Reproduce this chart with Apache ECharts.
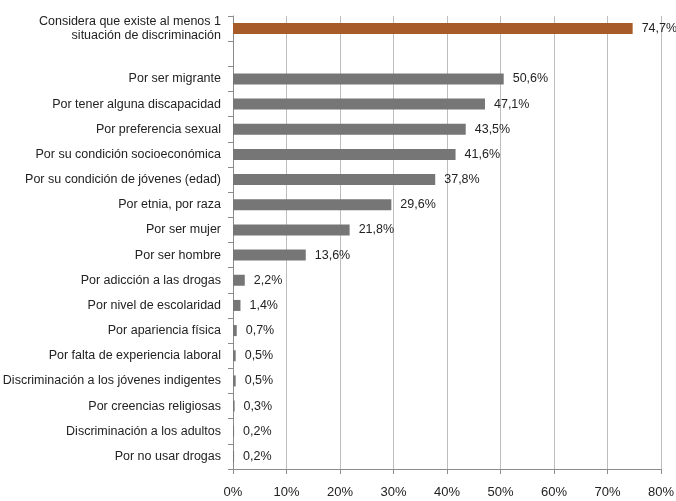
<!DOCTYPE html>
<html>
<head>
<meta charset="utf-8">
<script src="https://cdn.jsdelivr.net/npm/echarts@6/dist/echarts.min.js"></script>
<style>
html,body{margin:0;padding:0;background:#fff;}
#chart{width:676px;height:501px;}
</style>
</head>
<body>
<div id="chart"></div>
<script>
const categories = [
  "Considera que existe al menos 1\nsituación de discriminación",
  "",
  "Por ser migrante",
  "Por tener alguna discapacidad",
  "Por preferencia sexual",
  "Por su condición socioeconómica",
  "Por su condición de jóvenes (edad)",
  "Por etnia, por raza",
  "Por ser mujer",
  "Por ser hombre",
  "Por adicción a las drogas",
  "Por nivel de escolaridad",
  "Por apariencia física",
  "Por falta de experiencia laboral",
  "Discriminación a los jóvenes indigentes",
  "Por creencias religiosas",
  "Discriminación a los adultos",
  "Por no usar drogas"
];
const values = [74.7, null, 50.6, 47.1, 43.5, 41.6, 37.8, 29.6, 21.8, 13.6, 2.2, 1.4, 0.7, 0.5, 0.5, 0.3, 0.2, 0.2];
const highlightIndex = 0;
const colorHighlight = "#A65B28";
const colorDefault = "#767676";
const xTicks = [0, 10, 20, 30, 40, 50, 60, 70, 80];

const FONT = '"Liberation Sans", Arial, sans-serif';
const chart = echarts.init(document.getElementById('chart'), null, {renderer: 'canvas'});
chart.setOption({
  animation: false,
  backgroundColor: '#fff',
  grid: {left: 233, right: 15, top: 16, bottom: 32, containLabel: false, outerBoundsMode: 'none'},
  xAxis: {
    type: 'value',
    min: xTicks[0],
    max: xTicks[xTicks.length - 1],
    interval: 10,
    axisLine: {show: true, lineStyle: {color: '#8c8c8c', width: 1}},
    axisTick: {show: true, length: 5, lineStyle: {color: '#8c8c8c'}},
    splitLine: {show: true, lineStyle: {color: '#bdbdbd', width: 1}},
    axisLabel: {formatter: '{value}%', color: '#222', fontFamily: FONT, fontSize: 13, margin: 17}
  },
  yAxis: {
    type: 'category',
    inverse: true,
    data: categories,
    axisLine: {show: true, lineStyle: {color: '#8c8c8c', width: 1}},
    axisTick: {show: true, length: 5, alignWithLabel: false, interval: 0, lineStyle: {color: '#8c8c8c'}},
    axisLabel: {color: '#222', fontFamily: FONT, fontSize: 12.5, margin: 12, lineHeight: 14, interval: 0, align: 'right'}
  },
  series: [{
    type: 'bar',
    barWidth: 11,
    data: values.map((v, i) => ({
      value: v,
      itemStyle: {color: i === highlightIndex ? colorHighlight : colorDefault}
    })),
    label: {
      show: true,
      position: 'right',
      distance: 9,
      color: '#222',
      fontFamily: FONT,
      fontSize: 12.5,
      formatter: p => p.value == null ? '' : p.value.toFixed(1).replace('.', ',') + '%'
    }
  }]
});
</script>
</body>
</html>
